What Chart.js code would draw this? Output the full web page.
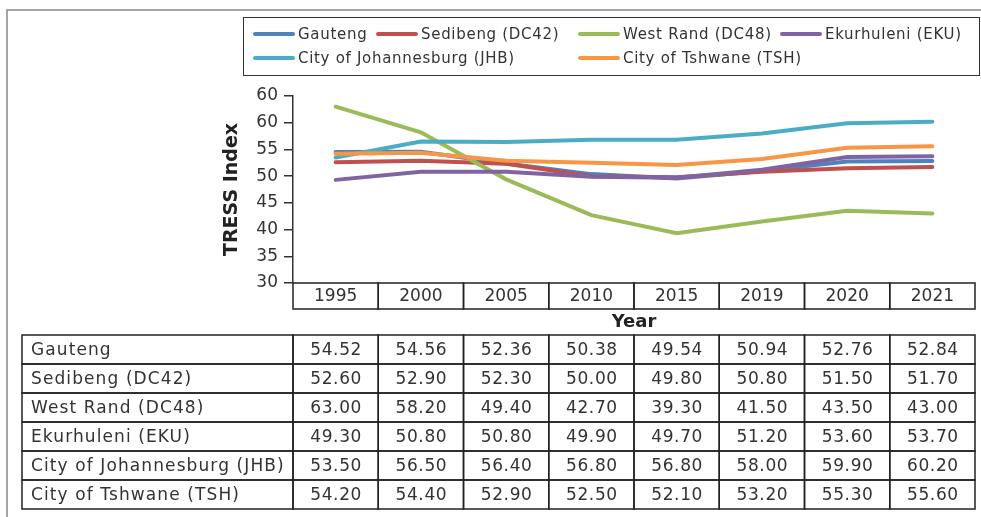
<!DOCTYPE html>
<html>
<head>
<meta charset="utf-8">
<script src="https://cdn.jsdelivr.net/npm/chart.js@4"></script>
<style>
  body { margin: 0; background: #fff; }
  #wrap { width: 981px; height: 517px; }
</style>
</head>
<body>
<div id="wrap"><canvas id="chart" width="981" height="517"></canvas></div>
<script>
const years = ['1995', '2000', '2005', '2010', '2015', '2019', '2020', '2021'];
const seriesNames = ['Gauteng', 'Sedibeng (DC42)', 'West Rand (DC48)', 'Ekurhuleni (EKU)',
    'City of Johannesburg (JHB)', 'City of Tshwane (TSH)'];
const gauteng = [54.52, 54.56, 52.36, 50.38, 49.54, 50.94, 52.76, 52.84];
const sedibeng = [52.60, 52.90, 52.30, 50.00, 49.80, 50.80, 51.50, 51.70];
const westRand = [63.00, 58.20, 49.40, 42.70, 39.30, 41.50, 43.50, 43.00];
const ekurhuleni = [49.30, 50.80, 50.80, 49.90, 49.70, 51.20, 53.60, 53.70];
const johannesburg = [53.50, 56.50, 56.40, 56.80, 56.80, 58.00, 59.90, 60.20];
const tshwane = [54.20, 54.40, 52.90, 52.50, 52.10, 53.20, 55.30, 55.60];
const yTickLabels = ['30', '35', '40', '45', '50', '55', '60', '60'];

const seriesValues = [gauteng, sedibeng, westRand, ekurhuleni, johannesburg, tshwane];
const colors = ['#4f81bd', '#c0504d', '#9bbb59', '#8064a2', '#4bacc6', '#f79646'];

// legend slots (x of swatch start, y of row centre)
const legendSlots = [[255, 34], [378, 34], [580, 34], [782, 34], [255, 58], [580, 58]];

Chart.defaults.font.family = 'DejaVu Sans';
Chart.defaults.color = '#333';

const tablePlugin = {
    id: 'tablePlugin',
    afterDraw(chart) {
        const ctx = chart.ctx;
        const x = chart.scales.x;
        const area = chart.chartArea;
        const colW = (area.right - area.left) / years.length;
        ctx.save();

        // outer frame
        ctx.strokeStyle = '#888';
        ctx.lineWidth = 1.5;
        ctx.beginPath();
        ctx.moveTo(7, 517);
        ctx.lineTo(7, 10);
        ctx.lineTo(981, 10);
        ctx.stroke();

        // legend
        ctx.strokeStyle = '#333';
        ctx.lineWidth = 1;
        ctx.strokeRect(243.5, 17.5, 736, 58);
        ctx.font = '15px "DejaVu Sans"';
        ctx.letterSpacing = '0.7px';
        ctx.textBaseline = 'middle';
        ctx.textAlign = 'left';
        chart.data.datasets.forEach((ds, i) => {
            const [lx, ly] = legendSlots[i];
            ctx.strokeStyle = ds.borderColor;
            ctx.lineWidth = 4;
            ctx.lineCap = 'round';
            ctx.beginPath();
            ctx.moveTo(lx, ly);
            ctx.lineTo(lx + 38, ly);
            ctx.stroke();
            ctx.fillStyle = '#333';
            ctx.fillText(ds.label, lx + 43, ly + 1);
        });

        // x header row
        ctx.strokeStyle = '#222';
        ctx.lineWidth = 1.5;
        ctx.lineCap = 'butt';
        ctx.letterSpacing = '0px';
        ctx.font = '17px "DejaVu Sans"';
        ctx.textAlign = 'center';
        const hTop = area.bottom, hBot = 309;
        years.forEach((yr, i) => {
            const cx = x.getPixelForValue(i);
            ctx.strokeRect(cx - colW / 2, hTop, colW, hBot - hTop);
            ctx.fillStyle = '#333';
            ctx.fillText(yr, cx, (hTop + hBot) / 2 + 1);
        });

        // axis title
        ctx.font = 'bold 18px "DejaVu Sans"';
        ctx.fillStyle = '#222';
        ctx.fillText('Year', (area.left + area.right) / 2, 322);

        // data table
        const tTop = 335, rowH = 29, tLeft = 22;
        ctx.font = '17px "DejaVu Sans"';
        seriesNames.forEach((name, r) => {
            const y0 = tTop + r * rowH;
            const cy = y0 + rowH / 2 + 1;
            ctx.strokeRect(tLeft, y0, area.left - tLeft, rowH);
            ctx.fillStyle = '#333';
            ctx.textAlign = 'left';
            ctx.letterSpacing = '1.1px';
            ctx.fillText(name, tLeft + 9, cy);
            ctx.textAlign = 'center';
            ctx.letterSpacing = '0.6px';
            seriesValues[r].forEach((v, i) => {
                const cx = x.getPixelForValue(i);
                ctx.strokeRect(cx - colW / 2, y0, colW, rowH);
                ctx.fillText(v.toFixed(2), cx + 0.5, cy);
            });
        });
        ctx.restore();
    }
};

new Chart(document.getElementById('chart'), {
    type: 'line',
    data: {
        labels: years,
        datasets: seriesNames.map((name, i) => ({
            label: name,
            data: seriesValues[i],
            borderColor: colors[i],
            backgroundColor: colors[i],
            borderWidth: 4,
            borderCapStyle: 'round',
            pointRadius: 0,
            tension: 0,
            order: seriesNames.length - i // later series on top
        }))
    },
    options: {
        responsive: false,
        animation: false,
        layout: {
            padding: { left: 210, top: 96, right: 6, bottom: 234 }
        },
        plugins: {
            legend: { display: false },
            tooltip: { enabled: false }
        },
        scales: {
            x: {
                offset: true,
                ticks: { display: false },
                grid: { display: false },
                border: { display: false },
                afterFit: function(scale) {
                    scale.height = 0;
                }
            },
            y: {
                min: 30,
                max: 65,
                ticks: {
                    stepSize: 5,
                    padding: 6,
                    color: '#333',
                    font: { size: 17 },
                    callback: function(value, index) {
                        return yTickLabels[index];
                    }
                },
                title: {
                    display: true,
                    text: 'TRESS Index',
                    color: '#222',
                    font: { size: 19, weight: 'bold' },
                    padding: { top: 11 }
                },
                grid: {
                    drawOnChartArea: false,
                    tickLength: 9,
                    color: '#333',
                    lineWidth: 1.5
                },
                border: { display: true, color: '#333', width: 1.5 },
                afterFit: function(scale) {
                    scale.width = 83;
                }
            }
        }
    },
    plugins: [tablePlugin]
});
</script>
</body>
</html>
